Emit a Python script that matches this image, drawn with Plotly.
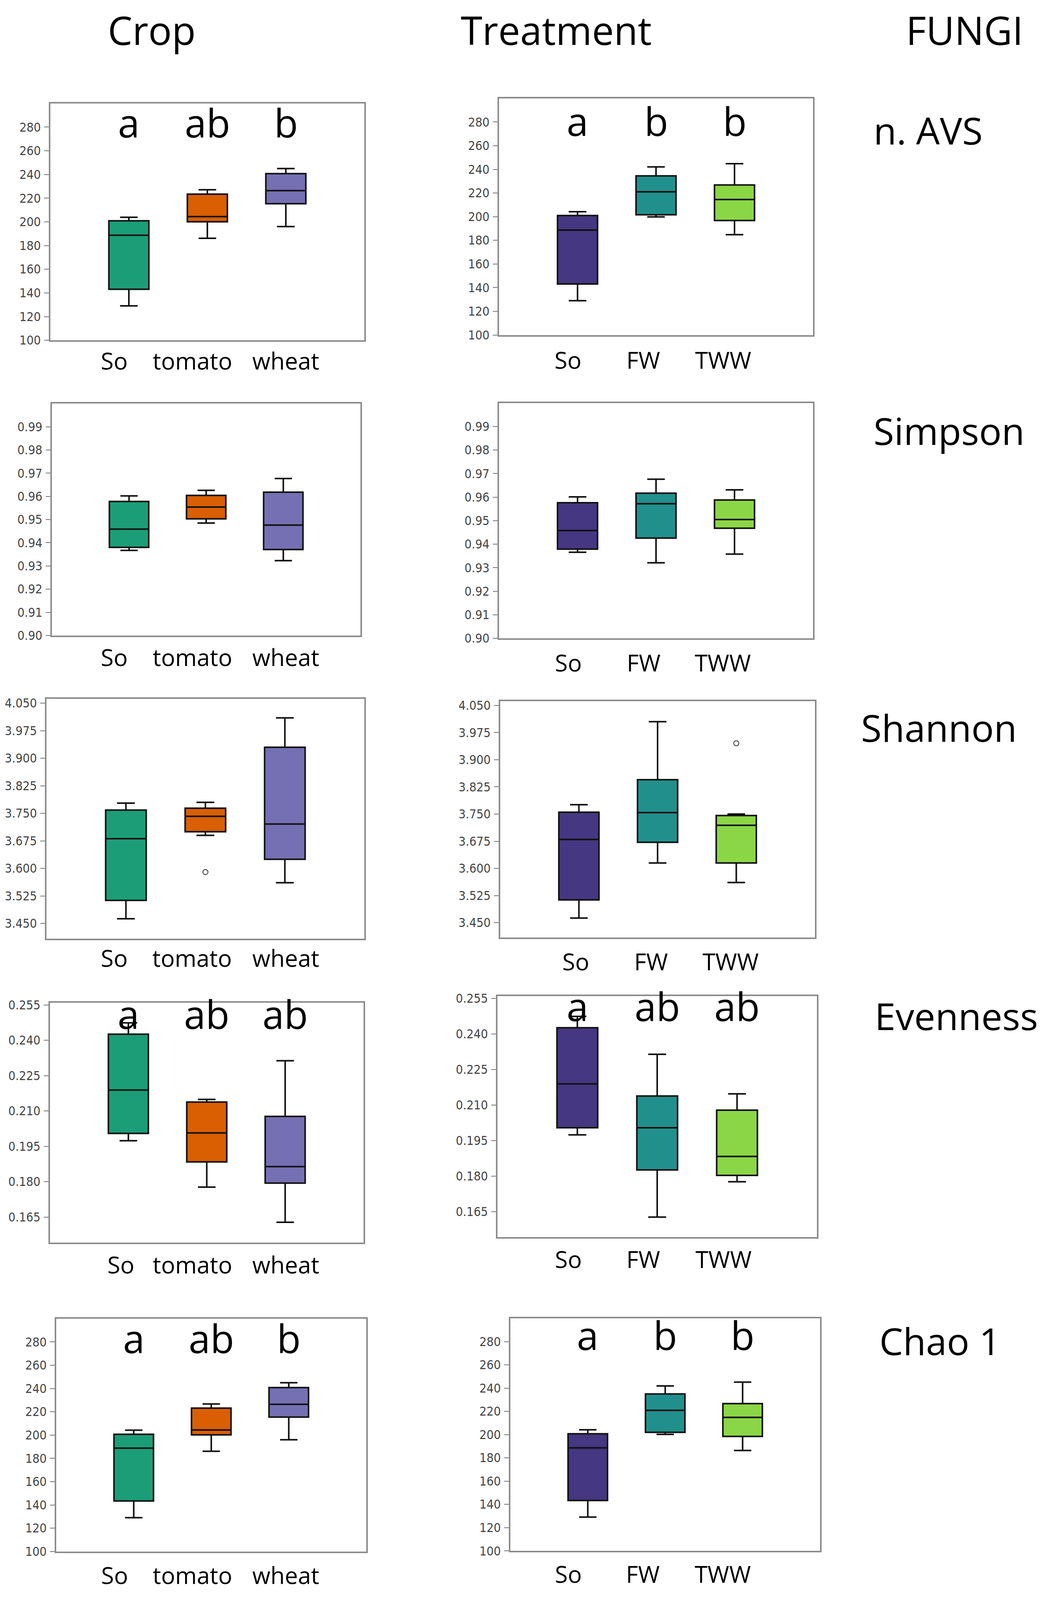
import plotly.graph_objects as go

# ---------------- data ----------------
crop_cats = ["So", "tomato", "wheat"]
treat_cats = ["So", "FW", "TWW"]
crop_colors = ["#1b9e77", "#d95f02", "#7570b3"]
treat_colors = ["#453781", "#21908c", "#8bd646"]

# each box: [lower whisker, Q1, median, Q3, upper whisker]
avs_crop = [[129.1, 143.1, 188.7, 200.9, 203.9],
            [186.1, 200.1, 204.4, 223.4, 227.1],
            [196.0, 215.3, 226.4, 240.7, 245.0]]
avs_treat = [[129.0, 143.1, 188.7, 201.0, 204.2],
             [199.8, 201.6, 221.0, 234.5, 242.1],
             [184.8, 196.8, 214.5, 226.8, 244.8]]

simpson_crop = [[0.9367, 0.9380, 0.9459, 0.9578, 0.9602],
                [0.9485, 0.9503, 0.9554, 0.9604, 0.9626],
                [0.9323, 0.9371, 0.9476, 0.9618, 0.9677]]
simpson_treat = [[0.9366, 0.9379, 0.9458, 0.9576, 0.9601],
                 [0.9321, 0.9426, 0.9572, 0.9617, 0.9676],
                 [0.9358, 0.9468, 0.9505, 0.9588, 0.9631]]

shannon_crop = [[3.463, 3.513, 3.681, 3.759, 3.778],
                [3.690, 3.700, 3.742, 3.764, 3.780],
                [3.561, 3.625, 3.721, 3.930, 4.010]]
shannon_treat = [[3.463, 3.513, 3.680, 3.755, 3.776],
                 [3.615, 3.672, 3.754, 3.845, 4.005],
                 [3.561, 3.615, 3.719, 3.746, 3.750]]
shannon_crop_outliers = {"tomato": [3.590]}
shannon_treat_outliers = {"TWW": [3.9455]}

even_crop = [[0.1974, 0.2005, 0.2189, 0.2426, 0.2474],
             [0.1777, 0.1884, 0.2007, 0.2138, 0.2149],
             [0.1628, 0.1794, 0.1864, 0.2077, 0.2313]]
even_treat = [[0.1974, 0.2004, 0.2189, 0.2426, 0.2474],
              [0.1627, 0.1826, 0.2004, 0.2138, 0.2314],
              [0.1776, 0.1803, 0.1883, 0.2078, 0.2147]]

chao_crop = [[129.1, 143.4, 188.8, 200.7, 204.2],
             [186.1, 200.2, 204.4, 223.2, 226.7],
             [196.0, 215.5, 226.5, 240.8, 245.0]]
chao_treat = [[129.1, 143.4, 188.6, 200.7, 204.2],
              [200.2, 202.0, 220.9, 235.0, 241.9],
              [186.4, 198.5, 214.8, 226.7, 245.2]]

avs_ticks = [100, 120, 140, 160, 180, 200, 220, 240, 260, 280]
simpson_ticks = [0.90, 0.91, 0.92, 0.93, 0.94, 0.95, 0.96, 0.97, 0.98, 0.99]
shannon_ticks = [3.450, 3.525, 3.600, 3.675, 3.750, 3.825, 3.900, 3.975, 4.050]
even_ticks = [0.165, 0.180, 0.195, 0.210, 0.225, 0.240, 0.255]

avs_crop_letters = ["a", "ab", "b"]
avs_treat_letters = ["a", "b", "b"]
even_crop_letters = ["a", "ab", "ab"]
even_treat_letters = ["a", "ab", "ab"]
chao_crop_letters = ["a", "ab", "b"]
chao_treat_letters = ["a", "b", "b"]

column_titles = ["Crop", "Treatment", "FUNGI"]
row_titles = ["n. AVS", "Simpson", "Shannon", "Evenness", "Chao 1"]

# ---------------- layout ----------------
W, H = 2671, 5067
TEXT_FONT = "Open Sans, Noto Sans, sans-serif"
TICK_FONT = "Liberation Sans Narrow, DejaVu Sans Condensed, Arial Narrow, sans-serif"
FRAME = "#8c8c8c"

# (x0, x1, y0, y1) in pixels from top-left of the 2671x5067 reference
panel_px = [
    (129, 933, 315, 1071), (1278, 2082, 299, 1054),
    (133, 923, 1273, 2013), (1278, 2082, 1271, 2022),
    (119, 933, 2215, 2980), (1281, 2087, 2222, 2977),
    (128, 931, 3185, 3950), (1274, 2092, 3164, 3933),
    (144, 938, 4193, 4936), (1307, 2100, 4192, 4934),
]
# category label centres (px) for each panel
label_x_px = [
    [292, 493, 732], [1454, 1647, 1852],
    [292, 493, 732], [1455, 1648, 1851],
    [292, 492, 732], [1474, 1667, 1871],
    [309, 493, 732], [1455, 1647, 1853],
    [293, 493, 732], [1455, 1646, 1851],
]
label_y_px = [1135, 1133, 2082, 2099, 3041, 3053, 4020, 4003, 5011, 5007]

panels = [
    (avs_crop, crop_cats, crop_colors, avs_ticks, "{:.0f}", [100, 300], {}, avs_crop_letters, 284),
    (avs_treat, treat_cats, treat_colors, avs_ticks, "{:.0f}", [100, 300], {}, avs_treat_letters, 281),
    (simpson_crop, crop_cats, crop_colors, simpson_ticks, "{:.2f}", [0.90, 1.00], {}, None, None),
    (simpson_treat, treat_cats, treat_colors, simpson_ticks, "{:.2f}", [0.90, 1.00], {}, None, None),
    (shannon_crop, crop_cats, crop_colors, shannon_ticks, "{:.3f}", [3.409, 4.062], shannon_crop_outliers, None, None),
    (shannon_treat, treat_cats, treat_colors, shannon_ticks, "{:.3f}", [3.409, 4.062], shannon_treat_outliers, None, None),
    (even_crop, crop_cats, crop_colors, even_ticks, "{:.3f}", [0.1542, 0.2559], {}, even_crop_letters, 0.2513),
    (even_treat, treat_cats, treat_colors, even_ticks, "{:.3f}", [0.1542, 0.2559], {}, even_treat_letters, 0.2519),
    (chao_crop, crop_cats, crop_colors, avs_ticks, "{:.0f}", [100, 300], {}, chao_crop_letters, 283.5),
    (chao_treat, treat_cats, treat_colors, avs_ticks, "{:.0f}", [100, 300], {}, chao_treat_letters, 286),
]

fig = go.Figure()
annotations = []
layout = {}

for i, (stats, cats, colors, ticks, fmt, yr, outliers, letters, ly) in enumerate(panels):
    n = i + 1
    xa = "x" if n == 1 else f"x{n}"
    ya = "y" if n == 1 else f"y{n}"
    x0, x1, y0, y1 = panel_px[i]
    for cat, col, s in zip(cats, colors, stats):
        fig.add_trace(go.Box(
            x=[cat], lowerfence=[s[0]], q1=[s[1]], median=[s[2]], q3=[s[3]], upperfence=[s[4]],
            fillcolor=col, line=dict(color="#111111", width=4),
            width=0.51, whiskerwidth=0.44, boxpoints=False,
            showlegend=False, hoverinfo="skip", xaxis=xa, yaxis=ya,
        ))
    for cat, vals in outliers.items():
        fig.add_trace(go.Scatter(
            x=[cat] * len(vals), y=vals, mode="markers",
            marker=dict(symbol="circle-open", size=13, color="#555555", line=dict(width=2.5)),
            showlegend=False, hoverinfo="skip", xaxis=xa, yaxis=ya,
        ))
    if letters:
        for cat, t in zip(cats, letters):
            annotations.append(dict(
                x=cat, y=ly, xref=xa, yref=ya, text=t, showarrow=False,
                xanchor="center", yanchor="middle",
                font=dict(family=TEXT_FONT, size=100, color="black"),
            ))
    # category labels under each panel
    for cat, lx in zip(cats, label_x_px[i]):
        annotations.append(dict(
            x=lx / W, y=1 - label_y_px[i] / H, xref="paper", yref="paper", text=cat,
            showarrow=False, xanchor="center", yanchor="middle",
            font=dict(family=TEXT_FONT, size=60, color="black"),
        ))
    kx = "xaxis" if n == 1 else f"xaxis{n}"
    ky = "yaxis" if n == 1 else f"yaxis{n}"
    layout[kx] = dict(
        domain=[x0 / W, x1 / W], anchor=ya, type="category",
        categoryorder="array", categoryarray=cats, range=[-1, 3],
        showline=True, mirror=True, linecolor=FRAME, linewidth=4,
        ticks="", showticklabels=False, showgrid=False, zeroline=False,
        fixedrange=True,
    )
    layout[ky] = dict(
        domain=[1 - y1 / H, 1 - y0 / H], anchor=xa, range=yr,
        tickmode="array", tickvals=ticks, ticktext=[fmt.format(v) for v in ticks],
        ticks="outside", ticklen=12, tickwidth=2, tickcolor="#777777",
        showline=True, mirror=True, linecolor=FRAME, linewidth=4,
        showgrid=False, zeroline=False,
        tickfont=dict(family=TICK_FONT, size=32, color="#444444"),
        ticklabelstandoff=2, fixedrange=True,
    )

# column titles
title_pos = [(388, 80), (1424, 80), (2470, 80)]
for t, (px, py) in zip(column_titles, title_pos):
    annotations.append(dict(
        x=px / W, y=1 - py / H, xref="paper", yref="paper", text=t, showarrow=False,
        xanchor="center", yanchor="middle",
        font=dict(family=TEXT_FONT, size=100, color="black"),
    ))

# row titles
row_pos = [(2235, 400), (2235, 1358), (2203, 2305), (2238, 3225), (2250, 4262)]
for t, (px, py) in zip(row_titles, row_pos):
    annotations.append(dict(
        x=px / W, y=1 - py / H, xref="paper", yref="paper", text=t, showarrow=False,
        xanchor="left", yanchor="middle",
        font=dict(family=TEXT_FONT, size=96, color="black"),
    ))

fig.update_layout(
    width=W, height=H, margin=dict(l=0, r=0, t=0, b=0),
    paper_bgcolor="white", plot_bgcolor="white",
    annotations=annotations, boxmode="overlay", showlegend=False,
    **layout,
)

# remove the page margin and, if the browser viewport is smaller than the
# requested size, fit the whole figure into the visible window
fit_script = (
    "var gd=document.getElementById('{plot_id}');"
    "document.documentElement.style.margin='0';"
    "document.body.style.margin='0';"
    "document.body.style.overflow='hidden';"
    "var w=window.innerWidth,h=window.innerHeight;"
    "if(w>0&&h>0&&(w!==gd._fullLayout.width||h!==gd._fullLayout.height)){"
    "gd.style.width=w+'px';gd.style.height=h+'px';"
    "Plotly.relayout(gd,{width:w,height:h});}"
)
fig.write_html("out.html", post_script=fit_script,
               config={"displayModeBar": False, "staticPlot": True})
